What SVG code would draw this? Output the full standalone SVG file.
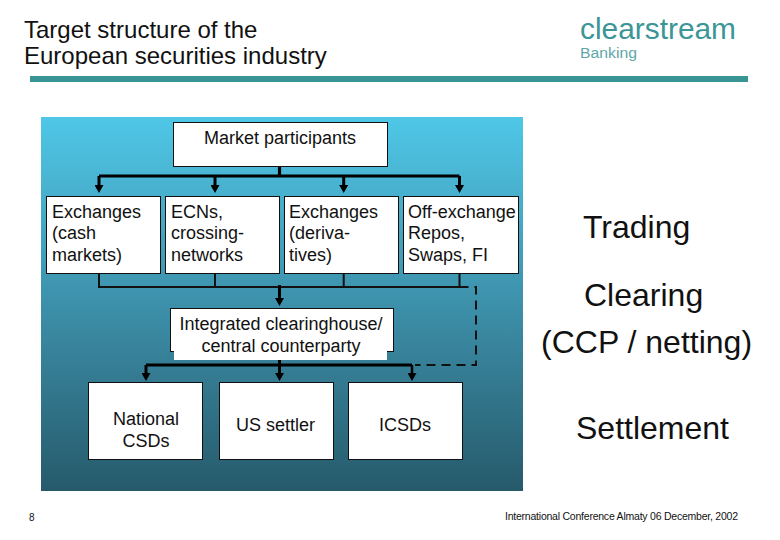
<svg xmlns="http://www.w3.org/2000/svg" width="780" height="540" viewBox="0 0 780 540">
<style>
text{font-family:"Liberation Sans",Arial,sans-serif;fill:#111}
.n{font-size:18px}
.m{text-anchor:middle}
.l{font-size:32px}
.t{font-size:24px}
.box{fill:#fff;stroke:#111;stroke-width:1}
.thick{fill:none;stroke:#000;stroke-width:3.2}
.stem{fill:none;stroke:#000;stroke-width:3}
.thin{fill:none;stroke:#111;stroke-width:2}
.dash{fill:none;stroke:#111;stroke-width:2;stroke-dasharray:9 6}
</style>
<defs>
<linearGradient id="bg" x1="0" y1="0" x2="0" y2="1">
<stop offset="0" stop-color="#4fc7e7"/>
<stop offset="0.5" stop-color="#3d90aa"/>
<stop offset="1" stop-color="#265a6b"/>
</linearGradient>
<marker id="arr" markerUnits="userSpaceOnUse" markerWidth="9" markerHeight="9" refX="4.500" refY="5" orient="0" viewBox="0 0 9 9">
<path d="M0 1H9L4.500 9Z" fill="#000"/>
</marker>
</defs>
<rect width="780" height="540" fill="#fff"/>
<text class="t" x="24" y="38">Target structure of the</text>
<text class="t" x="24" y="64">European securities industry</text>
<g id="logo">
<text x="580" y="39" font-size="30" style="fill:#3c9596" textLength="156" lengthAdjust="spacingAndGlyphs">clearstream</text>
<text x="580" y="58" font-size="14" style="fill:#5fa6a8" textLength="57" lengthAdjust="spacingAndGlyphs">Banking</text>
</g>
<rect x="30" y="76" width="718" height="6" fill="#389593"/>
<rect x="41" y="117" width="482" height="374" fill="url(#bg)"/>
<g id="connectors">
<path class="thick" d="M279.500 166V176"/>
<path class="thick" d="M99 176H459.500"/>
<path class="stem" d="M99 176V189" marker-end="url(#arr)"/>
<path class="stem" d="M215 176V189" marker-end="url(#arr)"/>
<path class="stem" d="M343.700 176V189" marker-end="url(#arr)"/>
<path class="stem" d="M459.500 176V189" marker-end="url(#arr)"/>
<path class="thin" d="M99 273V287H459.500V273M215 273V287M343.700 273V287"/>
<path class="stem" d="M279.500 285V302" marker-end="url(#arr)"/>
<path class="dash" d="M459.500 287H476V365H415"/>
<path class="thick" d="M146 365H412"/>
<path class="stem" d="M146 365V377" marker-end="url(#arr)"/>
<path class="stem" d="M279.500 355V377" marker-end="url(#arr)"/>
<path class="stem" style="stroke-width:2.500" d="M412 365V377" marker-end="url(#arr)"/>
</g>
<g id="market-participants">
<rect class="box" x="173.500" y="122.500" width="214" height="44"/>
<text class="n m" x="280" y="144">Market participants</text>
</g>
<g id="exchanges-cash">
<rect class="box" x="46.500" y="196.500" width="114" height="77"/>
<text class="n" x="52" y="218">Exchanges</text>
<text class="n" x="52" y="239">(cash</text>
<text class="n" x="52" y="261">markets)</text>
</g>
<g id="ecns">
<rect class="box" x="165.500" y="196.500" width="114" height="77"/>
<text class="n" x="171" y="218">ECNs,</text>
<text class="n" x="171" y="239">crossing-</text>
<text class="n" x="171" y="261">networks</text>
</g>
<g id="exchanges-derivatives">
<rect class="box" x="284.500" y="196.500" width="114" height="77"/>
<text class="n" x="289" y="218">Exchanges</text>
<text class="n" x="289" y="239">(deriva-</text>
<text class="n" x="289" y="261">tives)</text>
</g>
<g id="off-exchange">
<rect class="box" x="403.500" y="196.500" width="115" height="77"/>
<text class="n" x="408" y="218">Off-exchange</text>
<text class="n" x="408" y="239">Repos,</text>
<text class="n" x="408" y="261">Swaps, FI</text>
</g>
<g id="clearinghouse">
<rect class="box" x="170.500" y="308.500" width="223" height="43"/>
<rect x="174" y="340" width="213" height="20" fill="#fff"/>
<text class="n m" x="281" y="330">Integrated clearinghouse/</text>
<text class="n m" x="281" y="352">central counterparty</text>
</g>
<g id="national-csds">
<rect class="box" x="88.500" y="382.500" width="114" height="77"/>
<text class="n m" x="146" y="425">National</text>
<text class="n m" x="146" y="447">CSDs</text>
</g>
<g id="us-settler">
<rect class="box" x="219.500" y="382.500" width="114" height="77"/>
<text class="n m" x="275.500" y="431">US settler</text>
</g>
<g id="icsds">
<rect class="box" x="348.500" y="382.500" width="114" height="77"/>
<text class="n m" x="405" y="431">ICSDs</text>
</g>
<text class="l" x="583" y="238">Trading</text>
<text class="l" x="584" y="306">Clearing</text>
<text class="l" x="541" y="353">(CCP / netting)</text>
<text class="l" x="576" y="439">Settlement</text>
<text x="29" y="521" font-size="10">8</text>
<text x="505" y="520" font-size="10.500" textLength="233" lengthAdjust="spacing">International Conference Almaty 06 December, 2002</text>
</svg>
